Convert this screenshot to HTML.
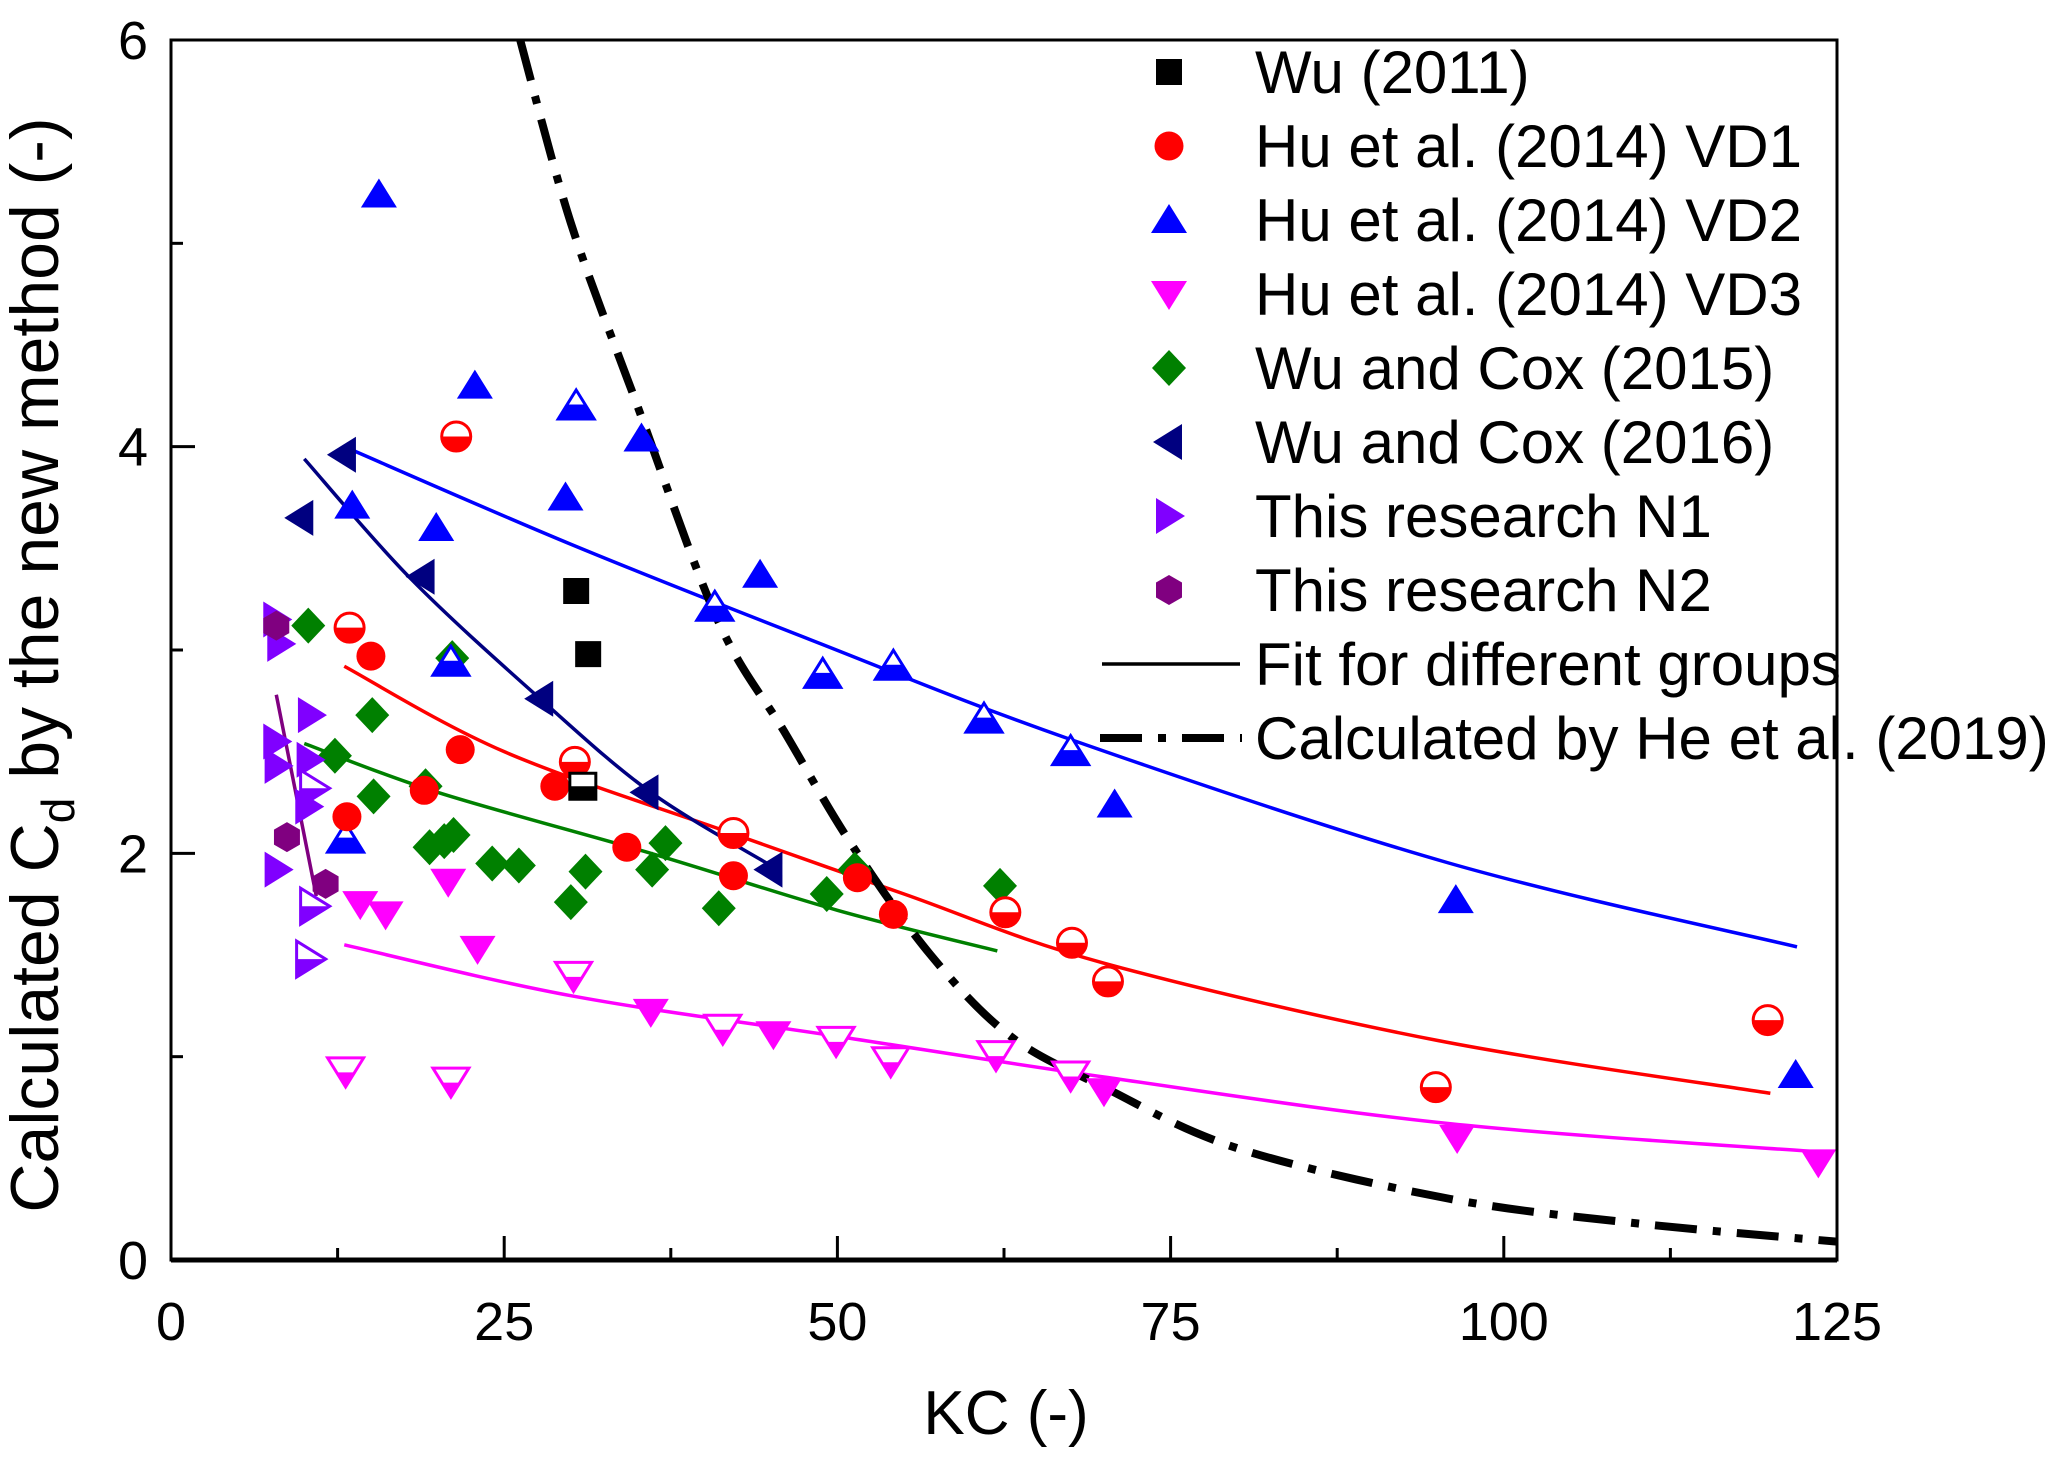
<!DOCTYPE html>
<html><head><meta charset="utf-8">
<style>
html,body{margin:0;padding:0;background:#fff;}
svg{display:block;font-family:"Liberation Sans",Arial,sans-serif;}
</style></head>
<body>
<svg id="chart" width="2067" height="1462" viewBox="0 0 2067 1462" xmlns="http://www.w3.org/2000/svg">
<defs>
<clipPath id="plotclip"><rect x="171" y="40" width="1666" height="1220"/></clipPath>
<clipPath id="lowerhalf" clipPathUnits="objectBoundingBox"><rect x="-0.1" y="0.5" width="1.2" height="0.6"/></clipPath>
</defs>
<g id="series" clip-path="url(#plotclip)"></g>
<g id="axes"></g>
<g id="legend"></g>
<text x="1006" y="1434" font-size="62" text-anchor="middle">KC (-)</text>
<text transform="translate(58,665) rotate(-90)" font-size="68" text-anchor="middle">Calculated C<tspan font-size="46" dy="16">d</tspan><tspan dy="-16"> by the new method (-)</tspan></text>
</svg>
<script>
// ---- data ----
const xTicks = [0, 25, 50, 75, 100, 125];
const yTicks = [0, 2, 4, 6];
const wu2011 = [[30.4,3.29],[31.3,2.98]];
const wu2011Half = [[30.9,2.33]];
const vd1 = [[15.0,2.97],[21.7,2.51],[19.0,2.31],[28.8,2.33],[34.2,2.03],[42.2,1.89],[51.5,1.88],[54.2,1.70],[13.2,2.18]];
const vd1Half = [[21.4,4.05],[13.4,3.11],[30.3,2.45],[42.2,2.10],[62.6,1.71],[67.6,1.56],[70.3,1.37],[94.9,0.85],[119.8,1.18]];
const vd2 = [[15.6,5.24],[22.8,4.30],[13.6,3.71],[19.9,3.60],[29.6,3.75],[35.3,4.04],[44.2,3.37],[70.8,2.24],[96.4,1.77],[121.9,0.91]];
const vd2Half = [[30.4,4.20],[40.8,3.21],[48.9,2.88],[54.2,2.92],[61.0,2.66],[67.5,2.50],[21.0,2.94],[13.1,2.07]];
const vd3 = [[14.2,1.75],[16.1,1.70],[20.8,1.86],[23.0,1.53],[36.0,1.22],[45.2,1.11],[70.0,0.83],[96.5,0.60],[123.6,0.48]];
const vd3Half = [[13.1,0.93],[21.0,0.88],[30.2,1.40],[41.4,1.14],[49.9,1.08],[54.0,0.98],[61.9,1.01],[67.5,0.91]];
const cox2015 = [[10.3,3.12],[12.3,2.48],[15.1,2.68],[15.2,2.28],[19.1,2.33],[19.4,2.03],[20.5,2.06],[21.2,2.09],[24.1,1.95],[26.1,1.94],[30.0,1.76],[31.1,1.91],[36.1,1.92],[37.1,2.05],[41.1,1.73],[49.2,1.80],[51.3,1.92],[62.2,1.84],[21.1,2.96]];
const cox2016 = [[12.9,3.96],[9.7,3.65],[18.8,3.36],[27.7,2.76],[35.6,2.30],[44.9,1.92]];
const n1 = [[7.9,3.15],[8.2,3.03],[10.5,2.68],[10.4,2.46],[8.0,2.43],[7.9,2.55],[10.3,2.23],[8.0,1.92]];
const n1Half = [[10.7,1.74],[10.4,1.48],[10.7,2.32]];
const n2 = [[7.9,3.12],[8.7,2.08],[11.6,1.85]];
const fitVD2 = [[13,4.0],[30,3.52],[48,3.05],[67.5,2.56],[96,1.95],[122,1.54]];
const fitVD1 = [[13,2.92],[25,2.5],[42,2.1],[55,1.8],[70,1.46],[95,1.08],[120,0.82]];
const fit2015 = [[10,2.54],[20,2.3],[36,2.0],[50,1.72],[62,1.52]];
const fitVD3 = [[13,1.55],[30,1.3],[50,1.1],[70,0.9],[96,0.67],[124,0.53]];
const fit2016 = [[10,3.94],[18,3.35],[27.7,2.76],[36,2.3],[45,1.94]];
const fitN = [[7.9,2.78],[10.9,1.79]];
const heCurve = [[26.2,6],[30,5.1],[35,4.2],[41,3.15],[46,2.6],[51,2.05],[57,1.5],[63,1.1],[70,0.85],[80,0.55],[96,0.3],[110,0.18],[125,0.09]];

// ---- axes ----
const X0=171, X1=1837, Y0=1260, Y1=40;
const xs = k => X0 + k*(X1-X0)/125;
const ys = c => Y0 - c*(Y0-Y1)/6;
const NS='http://www.w3.org/2000/svg';
function mk(tag, attrs, parent){const e=document.createElementNS(NS,tag);for(const a in attrs)e.setAttribute(a,attrs[a]);parent.appendChild(e);return e;}
const series=document.getElementById('series'), axes=document.getElementById('axes'), legend=document.getElementById('legend');

function smooth(pts){
  const p=pts.map(d=>[xs(d[0]),ys(d[1])]);
  let s='M'+p[0][0]+','+p[0][1];
  for(let i=0;i<p.length-1;i++){
    const a=p[i-1]||p[i], b=p[i], c=p[i+1], d=p[i+2]||c;
    s+=' C'+(b[0]+(c[0]-a[0])/6)+','+(b[1]+(c[1]-a[1])/6)+' '+(c[0]-(d[0]-b[0])/6)+','+(c[1]-(d[1]-b[1])/6)+' '+c[0]+','+c[1];
  }
  return s;
}
function shapePath(type,x,y){
  const r=16;
  switch(type){
    case 'square': return `M${x-13},${y-13}h26v26h-26z`;
    case 'circle': return `M${x-14.5},${y}a14.5,14.5 0 1,0 29,0a14.5,14.5 0 1,0 -29,0z`;
    case 'up': return `M${x},${y-r}L${x+r+2},${y+r-3}L${x-r-2},${y+r-3}z`;
    case 'down': return `M${x},${y+r}L${x+r+2},${y-r+3}L${x-r-2},${y-r+3}z`;
    case 'diamond': return `M${x},${y-18}L${x+17},${y}L${x},${y+18}L${x-17},${y}z`;
    case 'left': return `M${x-r},${y}L${x+r-3},${y-r-2}L${x+r-3},${y+r+2}z`;
    case 'right': return `M${x+r},${y}L${x-r+3},${y-r-2}L${x-r+3},${y+r+2}z`;
    case 'hex': {let s='';for(let i=0;i<6;i++){const an=Math.PI/6+i*Math.PI/3;s+=(i?'L':'M')+(x+15*Math.cos(an))+','+(y+15*Math.sin(an));}return s+'z';}
  }
}
function drawMarkers(data,type,color,half,name){
  data.forEach(d=>{
    const x=xs(d[0]), y=ys(d[1]);
    if(half){
      const g=mk('g',{},series);
      
      
      mk('path',{d:shapePath(type,x,y),fill:'#fff',stroke:color,'stroke-width':3},g);
      mk('path',{d:shapePath(type,x,y),fill:color,'clip-path':'url(#lowerhalf)'},g);
    } else {
      const p=mk('path',{d:shapePath(type,x,y),fill:color},series);
      
      
    }
  });
}
function drawLine(data,color,name,dash,w){
  const p=mk('path',{d:smooth(data),fill:'none',stroke:color,'stroke-width':w||3.5},series);
  if(dash)p.setAttribute('stroke-dasharray',dash);
  
  
}

drawLine(fitVD2,'#0000ff','fit-vd2');
drawLine(fitVD1,'#ff0000','fit-vd1');
drawLine(fit2015,'#008000','fit-wu-cox-2015');
drawLine(fitVD3,'#ff00ff','fit-vd3');
drawLine(fit2016,'#000080','fit-wu-cox-2016');
drawLine(fitN,'#800080','fit-this-research');
drawLine(heCurve,'#000','he-2019-curve','42,16,8,16',8);
drawMarkers(cox2015,'diamond','#008000',false,'wu-cox-2015');
drawMarkers(vd3,'down','#ff00ff',false,'vd3');
drawMarkers(vd3Half,'down','#ff00ff',true,'vd3');
drawMarkers(vd2,'up','#0000ff',false,'vd2');
drawMarkers(vd2Half,'up','#0000ff',true,'vd2');
drawMarkers(vd1,'circle','#ff0000',false,'vd1');
drawMarkers(vd1Half,'circle','#ff0000',true,'vd1');
drawMarkers(cox2016,'left','#000080',false,'wu-cox-2016');
drawMarkers(n1,'right','#8000ff',false,'n1');
drawMarkers(n1Half,'right','#8000ff',true,'n1');
drawMarkers(n2,'hex','#800080',false,'n2');
drawMarkers(wu2011,'square','#000',false,'wu-2011');
drawMarkers(wu2011Half,'square','#000',true,'wu-2011');

const fr=mk('rect',{x:X0,y:Y1,width:X1-X0,height:Y0-Y1,fill:'none',stroke:'#000','stroke-width':3},axes);


mk('line',{x1:X0,y1:Y0,x2:X1,y2:Y0,stroke:'#000','stroke-width':5},axes);
mk('line',{x1:X0,y1:Y0,x2:X0,y2:Y1,stroke:'#000','stroke-width':3},axes);
for(let k=0;k<=125;k+=12.5){
  const major=(k%25===0);
  mk('line',{x1:xs(k),y1:Y0,x2:xs(k),y2:Y0-(major?24:12),stroke:'#000','stroke-width':3},axes);
}
xTicks.forEach(k=>{
  const t=mk('text',{x:xs(k),y:1340,'font-size':54,'text-anchor':'middle'},axes);
  t.textContent=k;
  
  
});
for(let c=0;c<=6;c+=1){
  const major=(c%2===0);
  mk('line',{x1:X0,y1:ys(c),x2:X0+(major?24:12),y2:ys(c),stroke:'#000','stroke-width':3},axes);
}
yTicks.forEach(c=>{
  const t=mk('text',{x:148,y:ys(c)+19,'font-size':54,'text-anchor':'end'},axes);
  t.textContent=c;
  
  
});

const legendLabels=['Wu (2011)','Hu et al. (2014) VD1','Hu et al. (2014) VD2','Hu et al. (2014) VD3','Wu and Cox (2015)','Wu and Cox (2016)','This research N1','This research N2','Fit for different groups','Calculated by He et al. (2019)'];
const legendShapes=['square','circle','up','down','diamond','left','right','hex','line','dash'];
const legendColors=['#000','#ff0000','#0000ff','#ff00ff','#008000','#000080','#8000ff','#800080','#000','#000'];
legendLabels.forEach((lab,i)=>{
  const y=72+i*74;
  const g=mk('g',{},legend);
  
  
  const s=legendShapes[i];
  if(s==='line') mk('line',{x1:1102,y1:y,x2:1240,y2:y,stroke:'#000','stroke-width':3.5},g);
  else if(s==='dash') mk('line',{x1:1100,y1:y,x2:1242,y2:y,stroke:'#000','stroke-width':8,'stroke-dasharray':'42,16,8,16'},g);
  else mk('path',{d:shapePath(s,1169,y),fill:legendColors[i]},g);
  const t=mk('text',{x:1255,y:y+21,'font-size':60},g);
  t.textContent=lab;
});
</script>
</body></html>
